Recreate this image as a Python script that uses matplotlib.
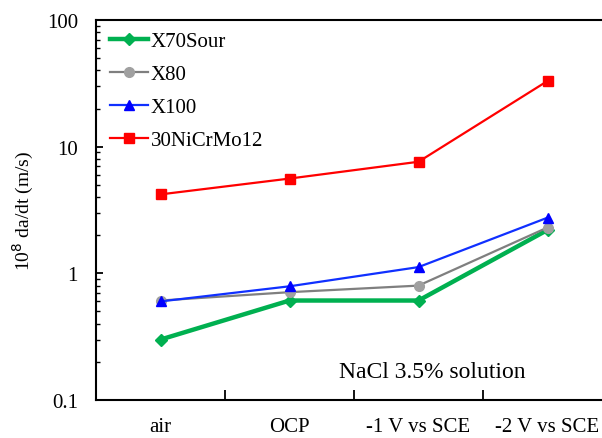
import matplotlib
matplotlib.use("Agg")
import matplotlib.pyplot as plt
import numpy as np

# ---------- DATA ----------
conditions = ["air", "OCP", "-1 V vs SCE", "-2 V vs SCE"]
x70sour = [0.30, 0.61, 0.61, 2.2]
x80 = [0.61, 0.71, 0.80, 2.3]
x100 = [0.60, 0.79, 1.12, 2.75]
nicrmo = [4.2, 5.6, 7.6, 33.0]
# --------------------------

plt.rcParams['font.family'] = ['Liberation Serif', 'DejaVu Serif']

W, H = 602, 439
fig = plt.figure(figsize=(W / 100, H / 100), dpi=100)
# axis runs slightly past the right edge of the figure
ax = fig.add_axes([96 / W, (H - 401) / H, 516 / W, 380 / H])

x = np.arange(1, len(conditions) + 1)
ax.plot(x, x70sour, color="#00B050", lw=3.2, marker="D", ms=6.5, label="X70Sour", zorder=3)
ax.plot(x, x80, color="#7F7F7F", lw=1.6, marker="o", ms=7, mfc="#A0A0A0", mec="#A0A0A0",
        label="X80", zorder=4)
ax.plot(x, x100, color="#1030FF", lw=1.6, marker="^", ms=7, mfc="#0000FF", mec="#0000FF",
        label="X100", zorder=5)
ax.plot(x, nicrmo, color="#FF0000", lw=1.6, marker="s", ms=7, label="30NiCrMo12", zorder=3)

ax.set_yscale("log")
ax.set_ylim(0.1, 100)
ax.set_xlim(0.5, 4.5)
ax.set_yticks([0.1, 1, 10, 100])
ax.set_yticklabels(["0.1", "1", "10", "100"], fontsize=15)
ax.set_xticks(np.arange(1.5, 4.6, 1.0))
ax.set_xticklabels([])
ax.set_xticks(x, minor=True)
ax.set_xticklabels(conditions, minor=True, fontsize=15)
ax.tick_params(axis="x", which="minor", length=0, pad=12)
ax.tick_params(axis="x", which="major", direction="in", length=7, width=1.3)
ax.tick_params(axis="y", which="major", direction="in", length=5, width=1.3, pad=13)
ax.tick_params(axis="y", which="minor", direction="in", length=3, width=1.0)

for s in ["left", "bottom", "top"]:
    ax.spines[s].set_linewidth(1.5)
ax.spines["right"].set_visible(False)

ax.set_ylabel(r"10$^{8}$ da/dt (m/s)", fontsize=14, labelpad=8)
fig.text(432 / W, 1 - 372 / H, "NaCl 3.5% solution", fontsize=17, ha="center", va="center")

ax.legend(loc="upper left", frameon=False, fontsize=15, handlelength=1.8,
          labelspacing=0.65, handletextpad=0.15, borderaxespad=0.15,
          bbox_to_anchor=(0.005, 1.0))

fig.savefig("out.png", dpi=100)
